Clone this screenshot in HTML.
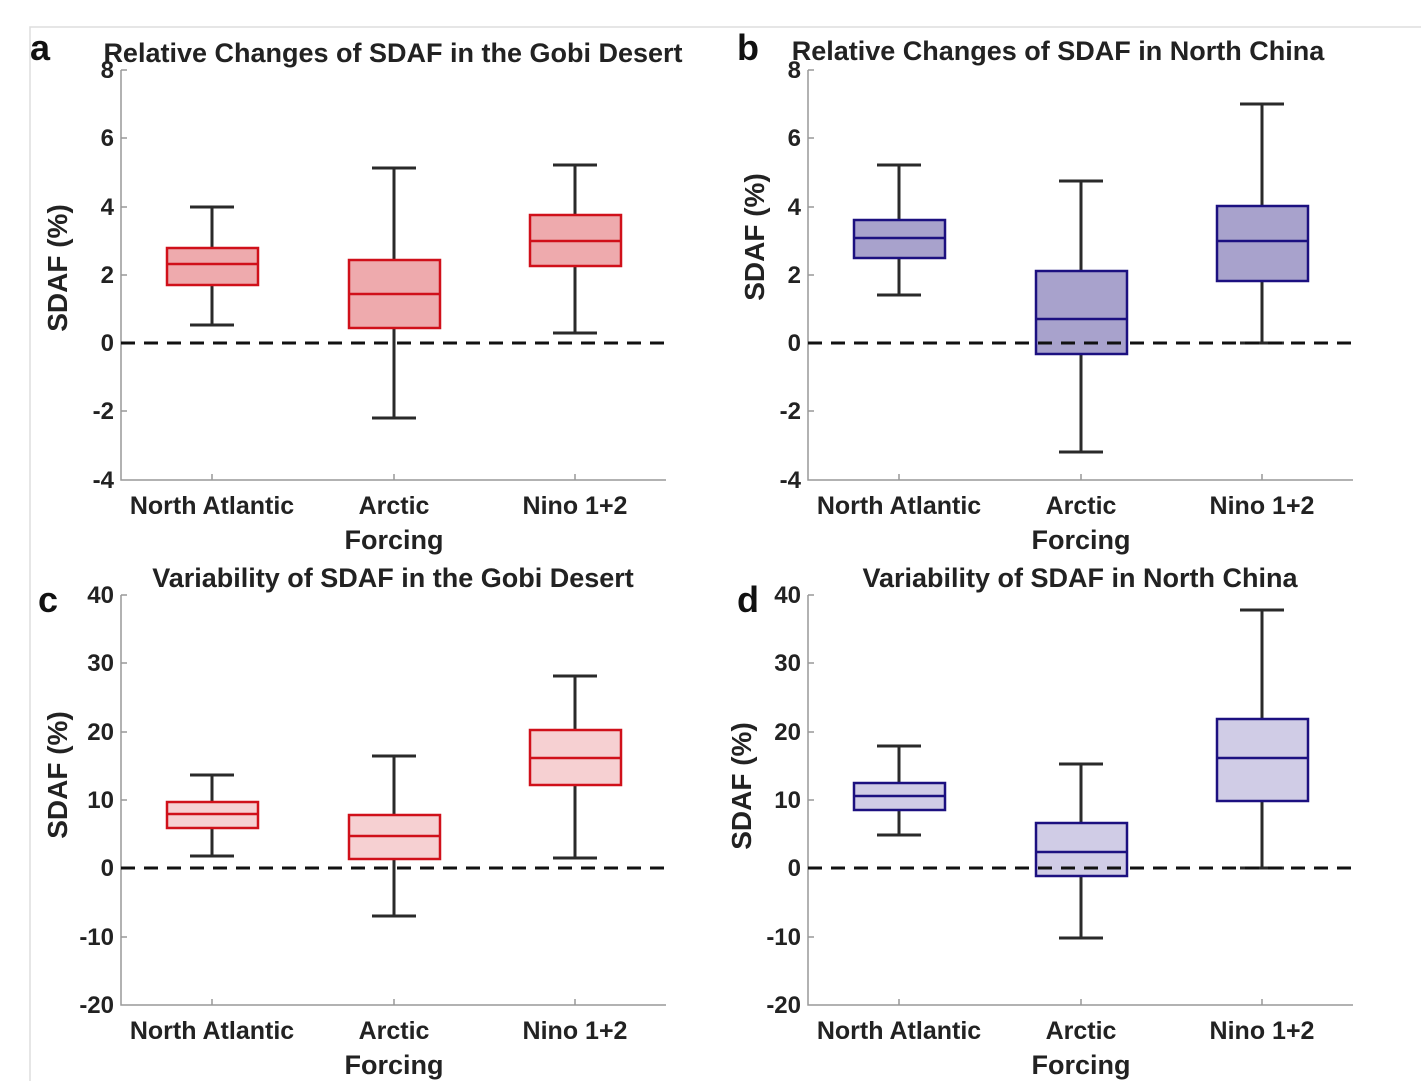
<!DOCTYPE html>
<html><head><style>
body{margin:0;background:#fff}
svg{display:block}
text{font-family:"Liberation Sans",Arial,sans-serif;font-weight:bold;fill:#222}
.t{font-size:24px}
.c{font-size:25px}
.f{font-size:27px}
.ti{font-size:27px}
.y{font-size:28px}
.L{font-size:36px;fill:#111}
.ax{stroke:#999;stroke-width:1.5;fill:none}
.wh{stroke:#2a2a2a;stroke-width:3;fill:none}
.dz{stroke:#111;stroke-width:3;stroke-dasharray:14 9}
</style></head><body>
<svg width="1421" height="1081" viewBox="0 0 1421 1081">
<path d="M30 1081V27H1421" stroke="#ddd" stroke-width="1.5" fill="none"/>
<defs>
<g id="axTop">
<path class="ax" d="M121 70V480H666 M121 70h6 M121 138h6 M121 207h6 M121 275h6 M121 343h6 M121 411h6 M212 480v-6 M394 480v-6 M575 480v-6"/>
<text class="t" x="114" y="78" text-anchor="end">8</text>
<text class="t" x="114" y="146" text-anchor="end">6</text>
<text class="t" x="114" y="215" text-anchor="end">4</text>
<text class="t" x="114" y="283" text-anchor="end">2</text>
<text class="t" x="114" y="351" text-anchor="end">0</text>
<text class="t" x="114" y="419" text-anchor="end">-2</text>
<text class="t" x="114" y="488" text-anchor="end">-4</text>
<text class="c" x="212" y="514" text-anchor="middle">North Atlantic</text>
<text class="c" x="394" y="514" text-anchor="middle">Arctic</text>
<text class="c" x="575" y="514" text-anchor="middle">Nino 1+2</text>
<text class="f" x="394" y="549" text-anchor="middle">Forcing</text>
</g>
<g id="axBot">
<path class="ax" d="M121 595V1005H666 M121 595h6 M121 663h6 M121 732h6 M121 800h6 M121 868h6 M121 937h6 M212 1005v-6 M394 1005v-6 M575 1005v-6"/>
<text class="t" x="114" y="603" text-anchor="end">40</text>
<text class="t" x="114" y="671" text-anchor="end">30</text>
<text class="t" x="114" y="740" text-anchor="end">20</text>
<text class="t" x="114" y="808" text-anchor="end">10</text>
<text class="t" x="114" y="876" text-anchor="end">0</text>
<text class="t" x="114" y="945" text-anchor="end">-10</text>
<text class="t" x="114" y="1013" text-anchor="end">-20</text>
<text class="c" x="212" y="1039" text-anchor="middle">North Atlantic</text>
<text class="c" x="394" y="1039" text-anchor="middle">Arctic</text>
<text class="c" x="575" y="1039" text-anchor="middle">Nino 1+2</text>
<text class="f" x="394" y="1074" text-anchor="middle">Forcing</text>
</g>
</defs>

<use href="#axTop"/>
<text class="L" x="30" y="60">a</text>
<text class="ti" x="393" y="62" text-anchor="middle">Relative Changes of SDAF in the Gobi Desert</text>
<text class="y" transform="translate(67 268) rotate(-90)" text-anchor="middle">SDAF (%)</text>
<g class="wh">
<path d="M212 207V248M212 285V325M190 207h44M190 325h44"/>
<path d="M394 168V260M394 328V418M372 168h44M372 418h44"/>
<path d="M575 165V215M575 266V333M553 165h44M553 333h44"/>
</g>
<g fill="#eeaaad" stroke="#d0101a" stroke-width="2.5">
<rect x="167" y="248" width="91" height="37"/><path d="M167 264h91"/>
<rect x="349" y="260" width="91" height="68"/><path d="M349 294h91"/>
<rect x="530" y="215" width="91" height="51"/><path d="M530 241h91"/>
</g>
<path class="dz" d="M121 343H666"/>

<g transform="translate(687 0)">
<use href="#axTop"/>
<text class="ti" x="371" y="60" text-anchor="middle">Relative Changes of SDAF in North China</text>
<text class="y" transform="translate(77 237) rotate(-90)" text-anchor="middle">SDAF (%)</text>
<g class="wh">
<path d="M212 165V220M212 258V295M190 165h44M190 295h44"/>
<path d="M394 181V271M394 354V452M372 181h44M372 452h44"/>
<path d="M575 104V206M575 281V343M553 104h44M553 343h44"/>
</g>
<g fill="#a8a2cc" stroke="#1c1080" stroke-width="2.5">
<rect x="167" y="220" width="91" height="38"/><path d="M167 238h91"/>
<rect x="349" y="271" width="91" height="83"/><path d="M349 319h91"/>
<rect x="530" y="206" width="91" height="75"/><path d="M530 241h91"/>
</g>
<path class="dz" d="M121 343H666"/>
</g>
<text class="L" x="737" y="60">b</text>

<use href="#axBot"/>
<text class="L" x="38" y="612">c</text>
<text class="ti" x="393" y="587" text-anchor="middle">Variability of SDAF in the Gobi Desert</text>
<text class="y" transform="translate(67 775) rotate(-90)" text-anchor="middle">SDAF (%)</text>
<g class="wh">
<path d="M212 775V802M212 828V856M190 775h44M190 856h44"/>
<path d="M394 756V815M394 859V916M372 756h44M372 916h44"/>
<path d="M575 676V730M575 785V858M553 676h44M553 858h44"/>
</g>
<g fill="#f6d0d2" stroke="#d0101a" stroke-width="2.5">
<rect x="167" y="802" width="91" height="26"/><path d="M167 814h91"/>
<rect x="349" y="815" width="91" height="44"/><path d="M349 836h91"/>
<rect x="530" y="730" width="91" height="55"/><path d="M530 758h91"/>
</g>
<path class="dz" d="M121 868H666"/>

<g transform="translate(687 0)">
<use href="#axBot"/>
<text class="ti" x="393" y="587" text-anchor="middle">Variability of SDAF in North China</text>
<text class="y" transform="translate(64 786) rotate(-90)" text-anchor="middle">SDAF (%)</text>
<g class="wh">
<path d="M212 746V783M212 810V835M190 746h44M190 835h44"/>
<path d="M394 764V823M394 876V938M372 764h44M372 938h44"/>
<path d="M575 610V719M575 801V868M553 610h44M553 868h44"/>
</g>
<g fill="#d0cce6" stroke="#1c1080" stroke-width="2.5">
<rect x="167" y="783" width="91" height="27"/><path d="M167 796h91"/>
<rect x="349" y="823" width="91" height="53"/><path d="M349 852h91"/>
<rect x="530" y="719" width="91" height="82"/><path d="M530 758h91"/>
</g>
<path class="dz" d="M121 868H666"/>
</g>
<text class="L" x="737" y="612">d</text>
</svg>
</body></html>
